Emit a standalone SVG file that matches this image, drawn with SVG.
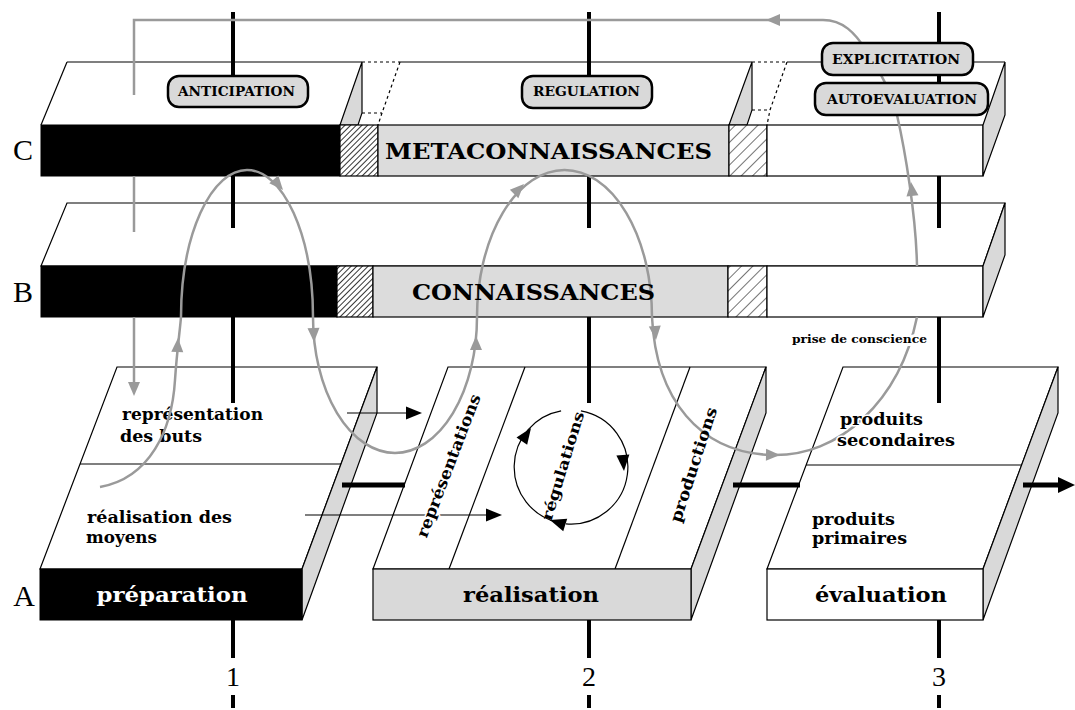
<svg xmlns="http://www.w3.org/2000/svg" width="1075" height="710" viewBox="0 0 1075 710">
<style>
.t{font-family:"DejaVu Serif","Liberation Serif",serif;font-weight:bold;fill:#000}
.h{paint-order:stroke;stroke:#fff;stroke-width:3;stroke-linejoin:round}
.L{font-family:"Liberation Serif",serif;fill:#000}
.ax{stroke:#000;stroke-width:4;fill:none}
.gr{stroke:#9a9a9a;stroke-width:2.5;fill:none}
.ln{stroke:#000;stroke-width:1.2}
.pill{fill:#d9d9d9;stroke:#000;stroke-width:2.5}
.sf{fill:#d9d9d9;stroke:#000;stroke-width:1.2}
.dot{stroke:#000;stroke-width:1.2;stroke-dasharray:3,3;fill:none}
</style>
<defs>
<pattern id="hd" width="4" height="4" patternUnits="userSpaceOnUse" patternTransform="rotate(45)"><rect width="4" height="4" fill="#fff"/><line x1="0" y1="0" x2="0" y2="4" stroke="#000" stroke-width="1.6"/></pattern>
<pattern id="hl" width="8" height="8" patternUnits="userSpaceOnUse" patternTransform="rotate(45)"><rect width="8" height="8" fill="#fff"/><line x1="0" y1="0" x2="0" y2="8" stroke="#000" stroke-width="1.1"/></pattern>
<path id="ga" d="M0,0 L-14,-6 L-14,6 Z" fill="#9a9a9a"/>
<path id="ba" d="M0,0 L-16,-6.5 L-16,6.5 Z" fill="#000"/>
</defs>

<g id="levelC">
<polygon points="41,125 67,62 1005,62 983,125" fill="#fff"/>
<line class="ln" x1="41" y1="125" x2="67" y2="62"/>
<line class="ln" x1="67" y1="62" x2="362" y2="62"/>
<line class="dot" x1="362" y1="62" x2="400" y2="62"/>
<line class="ln" x1="400" y1="62" x2="752" y2="62"/>
<line class="dot" x1="752" y1="62" x2="787" y2="62"/>
<line class="ln" x1="787" y1="62" x2="1005" y2="62"/>
<polygon class="sf" points="340,125 362,62 362,113 358,125"/>
<polyline class="dot" points="362,113 382,113"/>
<polyline class="dot" points="400,62 382,113 378,125"/>
<polygon class="sf" points="729,125 752,62 752,110 747,125"/>
<polyline class="dot" points="752,110 770,110"/>
<polyline class="dot" points="787,62 770,110 767,125"/>
<rect x="41" y="125" width="299" height="51" fill="#000" stroke="#000"/>
<rect x="340" y="125" width="38" height="51" fill="url(#hd)" class="ln"/>
<rect x="378" y="125" width="351" height="51" fill="#dcdcdc" class="ln"/>
<rect x="729" y="125" width="38" height="51" fill="url(#hl)" class="ln"/>
<rect x="767" y="125" width="216" height="51" fill="#fff" class="ln"/>
<polygon class="sf" points="983,125 1005,62 1005,115 983,176"/>
<text class="t" x="385" y="159" font-size="22" textLength="327" lengthAdjust="spacingAndGlyphs">METACONNAISSANCES</text>
<text class="L" x="23" y="160" font-size="30" text-anchor="middle">C</text>
</g>

<g id="levelB">
<polygon points="41,266 67,203 1005,203 983,266" fill="#fff" class="ln"/>
<rect x="41" y="266" width="296" height="51" fill="#000" stroke="#000"/>
<rect x="337" y="266" width="36" height="51" fill="url(#hd)" class="ln"/>
<rect x="373" y="266" width="355" height="51" fill="#dcdcdc" class="ln"/>
<rect x="728" y="266" width="39" height="51" fill="url(#hl)" class="ln"/>
<rect x="767" y="266" width="216" height="51" fill="#fff" class="ln"/>
<polygon class="sf" points="983,266 1005,203 1005,255 983,317"/>
<text class="L" x="23" y="302" font-size="30" text-anchor="middle">B</text>
</g>

<g id="preparation">
<polygon points="40,569 117,367 377,367 302,569" fill="#fff" class="ln"/>
<polygon class="sf" points="302,569 377,367 377,413 302,620"/>
<line class="ln" x1="80" y1="464" x2="341" y2="464"/>
<rect x="40" y="569" width="262" height="51" fill="#000" stroke="#000"/>
<text class="t" x="172" y="602" font-size="20" style="fill:#fff" text-anchor="middle" textLength="151" lengthAdjust="spacingAndGlyphs">préparation</text>
<text class="t" x="122" y="420" font-size="16" textLength="141" lengthAdjust="spacingAndGlyphs">représentation</text>
<text class="t" x="120" y="442" font-size="16" textLength="82" lengthAdjust="spacingAndGlyphs">des buts</text>
<text class="t" x="87" y="523" font-size="16" textLength="145" lengthAdjust="spacingAndGlyphs">réalisation des</text>
<text class="t" x="86" y="543" font-size="16" textLength="71" lengthAdjust="spacingAndGlyphs">moyens</text>
<text class="L" x="24" y="606" font-size="30" text-anchor="middle">A</text>
</g>

<g id="realisation">
<polygon points="373,569 448,367 766,367 691,569" fill="#fff" class="ln"/>
<polygon class="sf" points="691,569 766,367 766,413 691,620"/>
<line class="ln" x1="449" y1="569" x2="525" y2="367"/>
<line class="ln" x1="615" y1="569" x2="690" y2="367"/>
<rect x="373" y="569" width="318" height="51" fill="#d9d9d9" class="ln"/>
<text class="t" x="531" y="602" font-size="20" text-anchor="middle" textLength="136" lengthAdjust="spacingAndGlyphs">réalisation</text>
</g>

<g id="evaluation">
<polygon points="767,569 843,367 1058,367 983,569" fill="#fff" class="ln"/>
<polygon class="sf" points="983,569 1058,367 1058,413 983,620"/>
<line class="ln" x1="806" y1="465" x2="1022" y2="465"/>
<rect x="767" y="569" width="216" height="51" fill="#fff" class="ln"/>
<text class="t" x="881" y="602" font-size="20" text-anchor="middle" textLength="132" lengthAdjust="spacingAndGlyphs">évaluation</text>
<text class="t" x="812" y="525" font-size="16" textLength="83" lengthAdjust="spacingAndGlyphs">produits</text>
<text class="t" x="812" y="544" font-size="16" textLength="95" lengthAdjust="spacingAndGlyphs">primaires</text>
</g>

<g id="axes">
<line class="ax" x1="233" y1="12" x2="233" y2="77"/>
<line class="ax" x1="589" y1="12" x2="589" y2="77"/>
<line class="ax" x1="939" y1="12" x2="939" y2="44"/>
<line class="ax" x1="939" y1="74" x2="939" y2="84"/>
<line class="ax" x1="233" y1="176" x2="233" y2="228"/>
<line class="ax" x1="589" y1="176" x2="589" y2="228"/>
<line class="ax" x1="939" y1="176" x2="939" y2="228"/>
<line class="ax" x1="233" y1="317" x2="233" y2="403"/>
<line class="ax" x1="589" y1="317" x2="589" y2="403"/>
<line class="ax" x1="939" y1="317" x2="939" y2="403"/>
<line class="ax" x1="233" y1="620" x2="233" y2="658"/>
<line class="ax" x1="589" y1="620" x2="589" y2="658"/>
<line class="ax" x1="939" y1="620" x2="939" y2="658"/>
<line class="ax" x1="233" y1="695" x2="233" y2="708"/>
<line class="ax" x1="589" y1="695" x2="589" y2="708"/>
<line class="ax" x1="939" y1="695" x2="939" y2="708"/>
<text class="L" x="233" y="686" font-size="28" text-anchor="middle">1</text>
<text class="L" x="589" y="686" font-size="28" text-anchor="middle">2</text>
<text class="L" x="939" y="686" font-size="28" text-anchor="middle">3</text>
</g>

<g id="connectors">
<line stroke="#000" stroke-width="5" x1="342" y1="485" x2="405" y2="485"/>
<line stroke="#000" stroke-width="5" x1="733" y1="485" x2="800" y2="485"/>
<line stroke="#000" stroke-width="5" x1="1023" y1="485" x2="1062" y2="485"/>
<path d="M1075,485 L1058,477 L1058,493 Z" fill="#000"/>
<line class="ln" x1="347" y1="413" x2="410" y2="413"/>
<use href="#ba" transform="translate(422,413)"/>
<line class="ln" x1="305" y1="515" x2="490" y2="515"/>
<use href="#ba" transform="translate(502,515)"/>
<path class="ln" fill="none" d="M580.9,410.9 A57,57 0 0 1 566,523.8"/>
<path class="ln" fill="none" d="M558.2,522.5 A57,57 0 0 1 561.1,410.9"/>
<use href="#ba" transform="translate(531,428) rotate(-55)"/>
<use href="#ba" transform="translate(624,471) rotate(86)"/>
<use href="#ba" transform="translate(550,520) rotate(198)"/>

<path class="gr" d="M134,95 L134,20 L823,20 C843,20 855,33 866,50 C880,70 890,90 897,115 C905,150 916,215 917,266"/>
<line class="gr" x1="134" y1="176" x2="134" y2="232"/>
<line class="gr" x1="134" y1="317" x2="134" y2="385"/>
<path class="gr" d="M100,487 C150,478 172,430 175,380 C177,350 180,330 181,317 A66,147 0 0 1 313,317 A82,136 0 0 0 477,317 A87.5,147 0 0 1 652,317 C656,400 700,452 770,455 C840,458 900,400 917,317"/>
<use href="#ga" transform="translate(178,338) rotate(-87)"/>
<use href="#ga" transform="translate(283,190) rotate(49)"/>
<use href="#ga" transform="translate(314,342) rotate(88)"/>
<use href="#ga" transform="translate(476,336) rotate(-90)"/>
<use href="#ga" transform="translate(524,184) rotate(-45)"/>
<use href="#ga" transform="translate(656,340) rotate(85)"/>
<use href="#ga" transform="translate(780,455) rotate(1)"/>
<use href="#ga" transform="translate(911,182) rotate(-96)"/>
<use href="#ga" transform="translate(134,396) rotate(90)"/>
<use href="#ga" transform="translate(766,20) rotate(180)"/>
</g>

<g id="labels">
<text class="t" x="0" y="0" font-size="11" textLength="135" lengthAdjust="spacingAndGlyphs" transform="translate(792,343)" style="paint-order:stroke;stroke:#fff;stroke-width:6">prise de conscience</text>
<text class="t h" x="840" y="425" font-size="16" textLength="83" lengthAdjust="spacingAndGlyphs">produits</text>
<text class="t h" x="837" y="446" font-size="16" textLength="118" lengthAdjust="spacingAndGlyphs">secondaires</text>
<text class="t h" font-size="16" text-anchor="middle" textLength="152" lengthAdjust="spacingAndGlyphs" transform="translate(449,466) rotate(-69)" x="0" y="5">représentations</text>
<text class="t" font-size="15" text-anchor="middle" textLength="113" lengthAdjust="spacingAndGlyphs" transform="translate(563,466) rotate(-73)" x="0" y="5">régulations</text>
<text class="t" font-size="16" text-anchor="middle" textLength="120" lengthAdjust="spacingAndGlyphs" transform="translate(694,465) rotate(-72)" x="0" y="5">productions</text>
<text class="t" x="412" y="300" font-size="22" textLength="243" lengthAdjust="spacingAndGlyphs">CONNAISSANCES</text>
</g>

<g id="anticipation">
<rect class="pill" x="168" y="76" width="140" height="31" rx="11"/>
<text class="t" x="178" y="96" font-size="12" textLength="117" lengthAdjust="spacingAndGlyphs">ANTICIPATION</text>
</g>
<g id="regulation">
<rect class="pill" x="522" y="76" width="130" height="32" rx="11"/>
<text class="t" x="533" y="96" font-size="12" textLength="107" lengthAdjust="spacingAndGlyphs">REGULATION</text>
</g>
<g id="explicitation">
<rect class="pill" x="822" y="43" width="151" height="32" rx="11"/>
<text class="t" x="832" y="64" font-size="12" textLength="128" lengthAdjust="spacingAndGlyphs">EXPLICITATION</text>
</g>
<g id="autoevaluation">
<rect class="pill" x="815" y="83" width="173" height="32" rx="11"/>
<text class="t" x="827" y="104" font-size="12" textLength="150" lengthAdjust="spacingAndGlyphs">AUTOEVALUATION</text>
</g>
</svg>
